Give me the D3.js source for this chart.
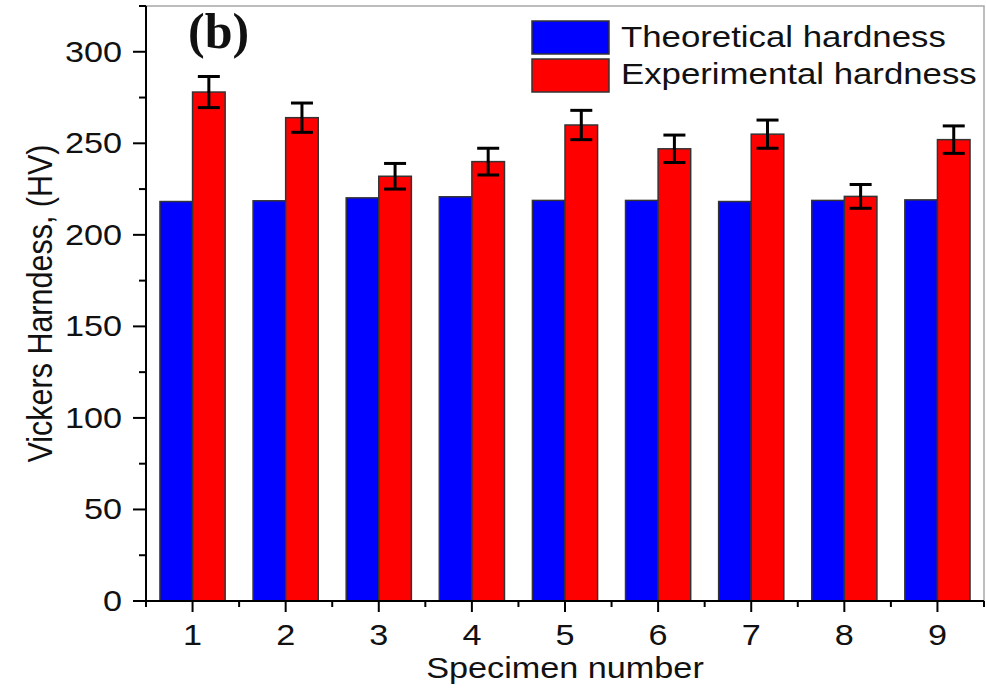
<!DOCTYPE html>
<html>
<head>
<meta charset="utf-8">
<script src="https://cdn.jsdelivr.net/npm/d3@7/dist/d3.min.js"></script>
<style>
  html, body { margin: 0; padding: 0; background: #fff; }
  svg { display: block; }
  text { font-family: "Liberation Sans", Arial, Helvetica, sans-serif; fill: #111; }
</style>
</head>
<body>
<svg id="chart" width="987" height="694"></svg>
<script>
// Specimen numbers and hardness values (HV)
const specimens = [1, 2, 3, 4, 5, 6, 7, 8, 9];
const theoretical = [218.2, 218.6, 220.2, 220.8, 218.8, 218.8, 218.2, 218.8, 219.1];
const experimental = [278, 264, 232, 240, 260, 247, 255, 221, 252];
const experimentalError = [8.5, 8, 7, 7.3, 8, 7.5, 7.7, 6.5, 7.5];
const yTicks = [0, 50, 100, 150, 200, 250, 300];
const yMinorTicks = [25, 75, 125, 175, 225, 275, 325];
const xMinorTicks = [0.5, 1.5, 2.5, 3.5, 4.5, 5.5, 6.5, 7.5, 8.5, 9.5];
const seriesNames = ["Theoretical hardness", "Experimental hardness"];
const seriesColors = ["#0000ff", "#ff0000"];

(function draw() {
  const svg = d3.select("#chart");
  const plotL = 146, plotR = 984, plotT = 6, plotB = 601;
  const sx = 1.18; // horizontal widening of the type

  const x = d3.scaleLinear().domain([0.5, 9.5]).range([plotL, plotR]);
  const y = d3.scaleLinear().domain([0, 325]).range([plotB, plotT]);
  const barW = 0.35;

  // frame (top and right)
  svg.append("path")
    .attr("d", `M${plotL},${plotT}H${plotR}V${plotB}`)
    .attr("fill", "none").attr("stroke", "#a8a8a8").attr("stroke-width", 1.5);

  // bars
  const g = svg.append("g");
  g.selectAll("rect.theo").data(specimens).join("rect")
    .attr("class", "theo")
    .attr("x", d => x(d - barW))
    .attr("width", d => x(d) - x(d - barW))
    .attr("y", (d, i) => y(theoretical[i]))
    .attr("height", (d, i) => y(0) - y(theoretical[i]))
    .attr("fill", seriesColors[0]).attr("stroke", "#333").attr("stroke-width", 1.5);

  g.selectAll("rect.exp").data(specimens).join("rect")
    .attr("class", "exp")
    .attr("x", d => x(d))
    .attr("width", d => x(d + barW) - x(d))
    .attr("y", (d, i) => y(experimental[i]))
    .attr("height", (d, i) => y(0) - y(experimental[i]))
    .attr("fill", seriesColors[1]).attr("stroke", "#333").attr("stroke-width", 1.5);

  // error bars
  const eb = g.selectAll("g.err").data(specimens).join("g").attr("class", "err")
    .attr("stroke", "#000").attr("stroke-width", 3);
  eb.append("line")
    .attr("x1", d => x(d + barW / 2)).attr("x2", d => x(d + barW / 2))
    .attr("y1", (d, i) => y(experimental[i] + experimentalError[i]))
    .attr("y2", (d, i) => y(experimental[i] - experimentalError[i]));
  [1, -1].forEach(s => {
    eb.append("line")
      .attr("x1", d => x(d + barW / 2) - 11).attr("x2", d => x(d + barW / 2) + 11)
      .attr("y1", (d, i) => y(experimental[i] + s * experimentalError[i]))
      .attr("y2", (d, i) => y(experimental[i] + s * experimentalError[i]));
  });

  // axes
  const axisG = svg.append("g").attr("stroke", "#000").attr("stroke-width", 2);
  axisG.append("line").attr("x1", plotL).attr("x2", plotL).attr("y1", plotT).attr("y2", plotB + 1);
  axisG.append("line").attr("x1", plotL - 1).attr("x2", plotR).attr("y1", plotB).attr("y2", plotB);

  axisG.selectAll("line.ymaj").data(yTicks).join("line").attr("class", "ymaj")
    .attr("x1", plotL - 13).attr("x2", plotL).attr("y1", d => y(d)).attr("y2", d => y(d));
  axisG.selectAll("line.ymin").data(yMinorTicks).join("line").attr("class", "ymin")
    .attr("x1", plotL - 7).attr("x2", plotL).attr("y1", d => y(d)).attr("y2", d => y(d));
  axisG.selectAll("line.xmaj").data(specimens).join("line").attr("class", "xmaj")
    .attr("x1", d => x(d)).attr("x2", d => x(d)).attr("y1", plotB).attr("y2", plotB + 11);
  axisG.selectAll("line.xmin").data(xMinorTicks).join("line").attr("class", "xmin")
    .attr("x1", d => x(d)).attr("x2", d => x(d)).attr("y1", plotB).attr("y2", plotB + 6);

  // tick labels
  svg.selectAll("text.ylab").data(yTicks).join("text").attr("class", "ylab")
    .attr("transform", d => `translate(122,${y(d) + 10}) scale(${sx},1)`)
    .attr("text-anchor", "end").attr("font-size", 29)
    .text(d => d);
  svg.selectAll("text.xlab").data(specimens).join("text").attr("class", "xlab")
    .attr("transform", d => `translate(${x(d)},645) scale(${sx},1)`)
    .attr("text-anchor", "middle").attr("font-size", 29)
    .text(d => d);

  // axis titles
  svg.append("text")
    .attr("transform", `translate(${(plotL + plotR) / 2},678) scale(${sx},1)`)
    .attr("text-anchor", "middle").attr("font-size", 29)
    .text("Specimen number");
  svg.append("text")
    .attr("transform", `translate(52,${(plotT + plotB) / 2}) rotate(-90) scale(1,${sx})`)
    .attr("text-anchor", "middle").attr("font-size", 30.5)
    .text("Vickers Harndess, (HV)");

  // panel label
  svg.append("text")
    .attr("x", 188).attr("y", 48)
    .attr("font-weight", "bold").attr("font-size", 50)
    .style("font-family", "'Liberation Serif', 'Times New Roman', serif")
    .text("(b)");

  // legend
  const leg = svg.append("g");
  seriesNames.forEach((name, i) => {
    leg.append("rect")
      .attr("x", 532).attr("y", 21 + i * 38).attr("width", 77).attr("height", 33)
      .attr("fill", seriesColors[i]).attr("stroke", "#333").attr("stroke-width", 1.5);
    leg.append("text")
      .attr("transform", `translate(621,${47 + i * 36.5}) scale(1.2,1)`)
      .attr("font-size", 29)
      .text(name);
  });
})();
</script>
</body>
</html>
